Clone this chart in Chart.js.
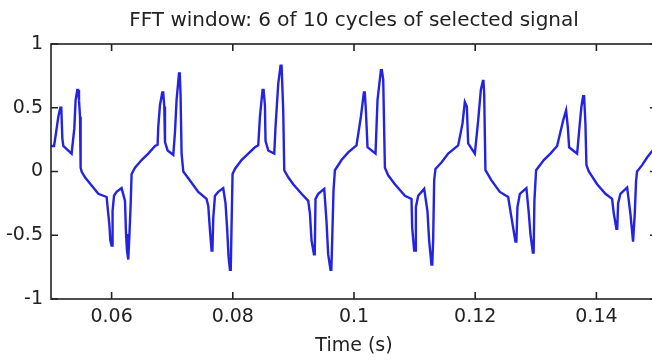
<!DOCTYPE html>
<html>
<head>
<meta charset="utf-8">
<script src="https://cdn.jsdelivr.net/npm/chart.js@4.4.0/dist/chart.umd.min.js"></script>
<style>
  html, body { margin: 0; padding: 0; background: #fff; overflow: hidden; }
  #wrap { width: 658px; height: 362px; }
</style>
</head>
<body>
<div id="wrap"><canvas id="fft-window-chart" width="658" height="362"></canvas></div>
<script>
// Signal samples (time in s, amplitude)
const times = [
    0.0500, 0.0505, 0.05076, 0.05121, 0.05154, 0.05170, 0.05187, 0.05203, 0.05340, 0.05385,
    0.05406, 0.05434, 0.05448, 0.05462, 0.05479, 0.05489, 0.05505, 0.05561, 0.05670, 0.05781,
    0.05918, 0.05934, 0.05962, 0.05979, 0.06000, 0.06008, 0.06016, 0.06040, 0.06082, 0.06165,
    0.06221, 0.06238, 0.06254, 0.06275, 0.06284, 0.06292, 0.06313, 0.06330, 0.06386, 0.06495,
    0.06605, 0.06716, 0.06759, 0.06770, 0.06798, 0.06836, 0.06852, 0.06869, 0.06881, 0.06924,
    0.07018, 0.07046, 0.07072, 0.07112, 0.07125, 0.07138, 0.07155, 0.07183, 0.07293, 0.07430,
    0.07567, 0.07595, 0.07623, 0.07650, 0.07664, 0.07678, 0.07706, 0.07760, 0.07842, 0.07880,
    0.07908, 0.07930, 0.07953, 0.07966, 0.07979, 0.07996, 0.08035, 0.08144, 0.08255, 0.08365,
    0.08420, 0.08448, 0.08491, 0.08508, 0.08530, 0.08540, 0.08585, 0.08684, 0.08705, 0.08750,
    0.08788, 0.08805, 0.08832, 0.08849, 0.08915, 0.08997, 0.09134, 0.09245, 0.09273, 0.09299,
    0.09339, 0.09352, 0.09365, 0.09410, 0.09509, 0.09546, 0.09574, 0.09612, 0.09626, 0.09640,
    0.09662, 0.09685, 0.09794, 0.09904, 0.10041, 0.10114, 0.10163, 0.10178, 0.10196, 0.10223,
    0.10355, 0.10388, 0.10444, 0.10460, 0.10482, 0.10510, 0.10564, 0.10675, 0.10840, 0.10949,
    0.10960, 0.10993, 0.11007, 0.11021, 0.11059, 0.11158, 0.11212, 0.11240, 0.11278, 0.11292,
    0.11306, 0.11323, 0.11344, 0.11443, 0.11554, 0.11719, 0.11790, 0.11829, 0.11862, 0.11884,
    0.11994, 0.12049, 0.12093, 0.12126, 0.12137, 0.12148, 0.12169, 0.12268, 0.12407, 0.12544,
    0.12598, 0.12664, 0.12680, 0.12697, 0.12737, 0.12845, 0.12885, 0.12911, 0.12951, 0.12964,
    0.12977, 0.13005, 0.13132, 0.13241, 0.13352, 0.13451, 0.13500, 0.13514, 0.13528, 0.13550,
    0.13682, 0.13726, 0.13753, 0.13781, 0.13797, 0.13819, 0.13835, 0.13875, 0.14012, 0.14149,
    0.14259, 0.14287, 0.14330, 0.14344, 0.14358, 0.14396, 0.14507, 0.14561, 0.14605, 0.14619,
    0.14633, 0.14655, 0.14671, 0.14754, 0.14836, 0.14919, 0.15000
];
const amplitude = [
    0.20, 0.20, 0.28, 0.43, 0.50, 0.50, 0.26, 0.20, 0.14, 0.34,
    0.56, 0.64, 0.64, 0.56, 0.43, 0.03, 0.00, -0.045, -0.11, -0.175,
    -0.20, -0.28, -0.41, -0.54, -0.58, -0.58, -0.31, -0.19, -0.16, -0.13,
    -0.23, -0.49, -0.62, -0.69, -0.69, -0.52, -0.28, -0.02, 0.03, 0.09,
    0.14, 0.20, 0.21, 0.35, 0.52, 0.62, 0.62, 0.51, 0.23, 0.165,
    0.13, 0.31, 0.56, 0.77, 0.77, 0.60, 0.14, 0.00, -0.07, -0.16,
    -0.215, -0.27, -0.46, -0.62, -0.62, -0.36, -0.19, -0.16, -0.13, -0.25,
    -0.46, -0.67, -0.77, -0.77, -0.44, -0.02, 0.02, 0.09, 0.14, 0.19,
    0.205, 0.43, 0.64, 0.64, 0.52, 0.24, 0.165, 0.14, 0.35, 0.69,
    0.83, 0.83, 0.48, 0.01, -0.045, -0.10, -0.175, -0.23, -0.33, -0.54,
    -0.65, -0.65, -0.215, -0.175, -0.136, -0.39, -0.65, -0.77, -0.77, -0.54,
    -0.15, 0.01, 0.09, 0.15, 0.205, 0.43, 0.62, 0.62, 0.48, 0.19,
    0.14, 0.56, 0.795, 0.795, 0.72, 0.03, -0.03, -0.10, -0.19, -0.215,
    -0.44, -0.62, -0.62, -0.28, -0.19, -0.136, -0.31, -0.54, -0.73, -0.73,
    -0.54, -0.07, 0.02, 0.07, 0.14, 0.205, 0.375, 0.545, 0.51, 0.22,
    0.14, 0.40, 0.64, 0.71, 0.71, 0.61, 0.01, -0.07, -0.16, -0.20,
    -0.36, -0.55, -0.55, -0.28, -0.175, -0.13, -0.33, -0.49, -0.635, -0.635,
    -0.23, 0.01, 0.09, 0.14, 0.20, 0.40, 0.48, 0.48, 0.35, 0.19,
    0.14, 0.375, 0.51, 0.59, 0.59, 0.375, 0.05, 0.00, -0.10, -0.175,
    -0.215, -0.33, -0.45, -0.45, -0.25, -0.175, -0.125, -0.33, -0.55, -0.55,
    -0.33, -0.07, 0.00, 0.05, 0.11, 0.16, 0.19
];
const xTicks = [0.06, 0.08, 0.1, 0.12, 0.14];
const yTicks = [-1, -0.5, 0, 0.5, 1];

const font = { family: '"DejaVu Sans", sans-serif', size: 19 };

// matlab style box with inward ticks on all four sides
const boxTicks = {
    id: 'boxTicks',
    afterDraw(chart) {
        const { ctx, chartArea: a, scales: { x, y } } = chart;
        const len = 7;
        ctx.save();
        ctx.strokeStyle = '#222';
        ctx.lineWidth = 1.6;
        ctx.strokeRect(a.left, a.top, a.right - a.left, a.bottom - a.top);
        ctx.beginPath();
        xTicks.forEach(v => {
            const px = x.getPixelForValue(v);
            ctx.moveTo(px, a.bottom); ctx.lineTo(px, a.bottom - len);
            ctx.moveTo(px, a.top); ctx.lineTo(px, a.top + len);
        });
        yTicks.forEach(v => {
            const py = y.getPixelForValue(v);
            ctx.moveTo(a.left, py); ctx.lineTo(a.left + len, py);
            ctx.moveTo(a.right, py); ctx.lineTo(a.right - len, py);
        });
        ctx.stroke();
        ctx.restore();
    }
};

const ctx = document.getElementById('fft-window-chart').getContext('2d');
const chart = new Chart(ctx, {
    type: 'line',
    data: {
        datasets: [{
            data: times.map((t, i) => ({ x: t, y: amplitude[i] })),
            borderColor: 'rgb(35, 35, 225)',
            borderWidth: 2.4,
            pointRadius: 0,
            tension: 0,
            fill: false
        }]
    },
    options: {
        responsive: false,
        devicePixelRatio: 1,
        animation: false,
        layout: { padding: { left: 0, right: 1, top: 0, bottom: 0 } },
        scales: {
            x: {
                type: 'linear',
                min: 0.05,
                max: 0.15,
                afterBuildTicks: s => { s.ticks = xTicks.map(v => ({ value: v })); },
                afterFit: s => { s.height = 63; },
                grid: { display: false, drawTicks: false },
                border: { display: false },
                ticks: { color: '#222', font, padding: 7, maxRotation: 0, autoSkip: false, callback: v => String(v) },
                title: { display: true, text: 'Time (s)', color: '#222', font, padding: { top: 0, bottom: 5 } }
            },
            y: {
                min: -1,
                max: 1,
                afterBuildTicks: s => { s.ticks = yTicks.map(v => ({ value: v })); },
                afterFit: s => { s.width = 51; },
                grid: { display: false, drawTicks: false },
                border: { display: false },
                ticks: { color: '#222', font, padding: 8, callback: v => String(v) }
            }
        },
        plugins: {
            legend: { display: false },
            tooltip: { enabled: false },
            title: {
                display: true,
                fullSize: false,
                text: 'FFT window: 6 of 10 cycles of selected signal',
                color: '#222',
                font: { family: font.family, size: 20, weight: 'normal' },
                padding: { top: 9, bottom: 11 }
            }
        }
    },
    plugins: [boxTicks]
});
</script>
</body>
</html>
